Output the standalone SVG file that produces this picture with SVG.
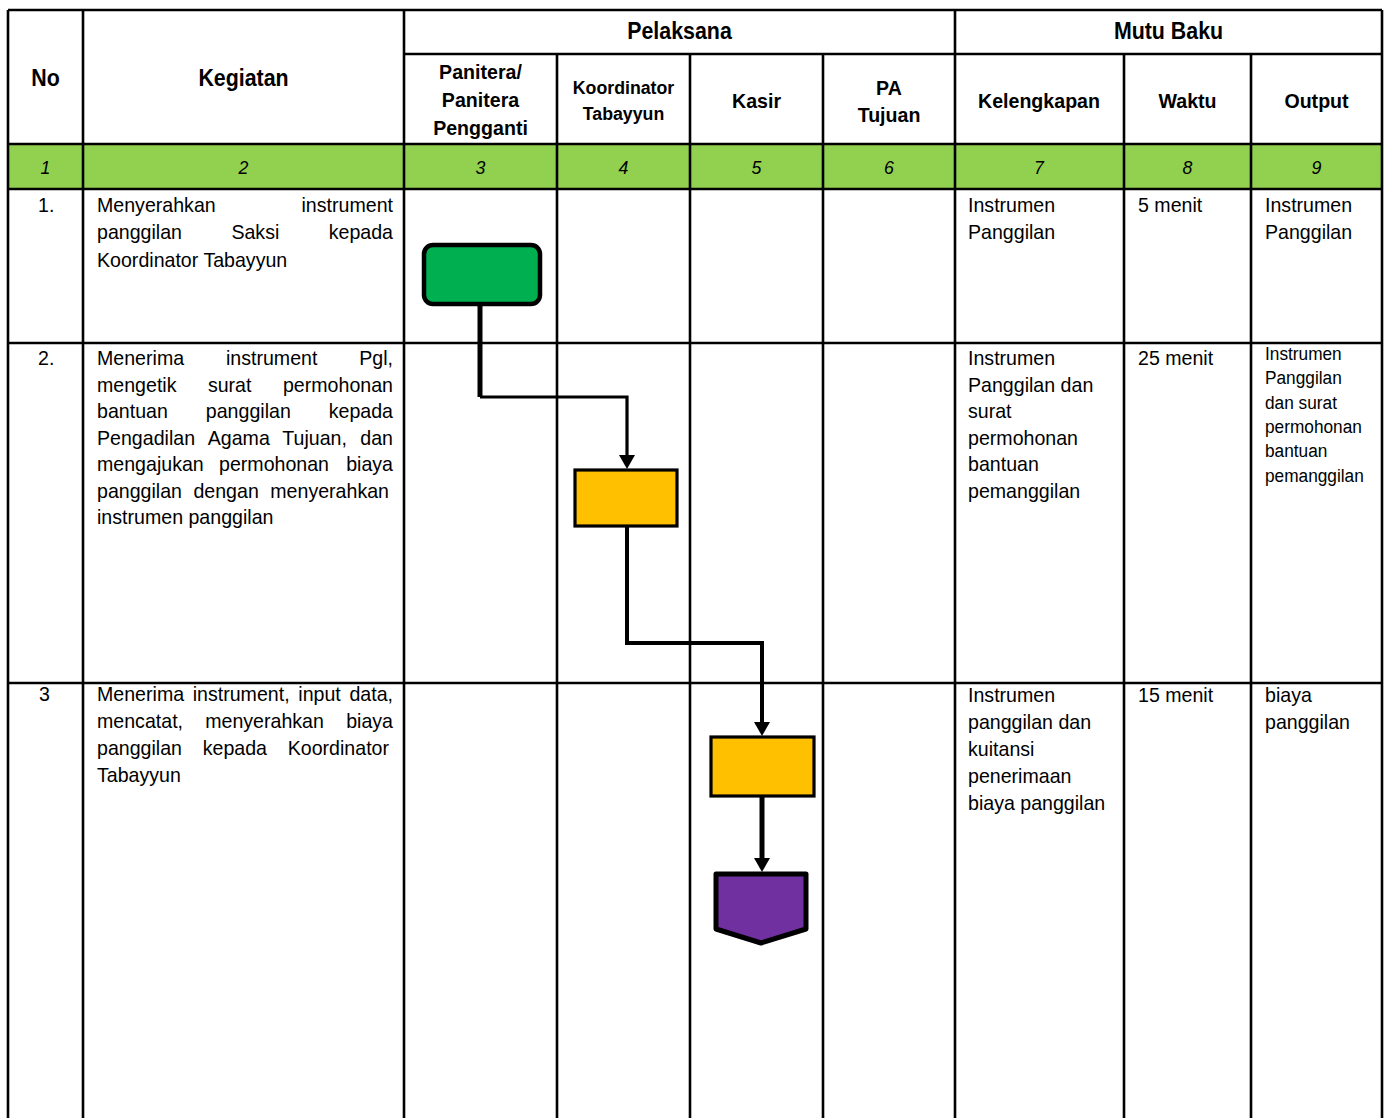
<svg xmlns="http://www.w3.org/2000/svg" width="1386" height="1118" viewBox="0 0 1386 1118">
<style>
.t{font-family:"Liberation Sans",Arial,sans-serif;fill:#000}
.r{font-size:21px}
.o{font-size:18.5px}
.h{font-size:23.5px;font-weight:bold;text-anchor:middle}
.s{font-size:21px;font-weight:bold;text-anchor:middle}
.k{font-size:19px;font-weight:bold;text-anchor:middle}
.n{font-size:19px;font-style:italic;text-anchor:middle}
.e{text-anchor:end}
.g line{stroke:#000;stroke-width:2.6}
.c{fill:none;stroke:#000}
</style>
<defs>
<marker id="ah" markerUnits="userSpaceOnUse" markerWidth="16" markerHeight="16" refX="0" refY="8" orient="auto"><path d="M0,0 L14,8 L0,16 z" fill="#000"/></marker>
</defs>
<rect width="1386" height="1118" fill="#fff"/>
<rect x="8" y="144" width="1374" height="45" fill="#92D050"/>
<g id="grid" class="g">
<line x1="8" y1="10" x2="1382" y2="10"/>
<line x1="404" y1="54" x2="1382" y2="54"/>
<line x1="8" y1="144" x2="1382" y2="144"/>
<line x1="8" y1="189" x2="1382" y2="189"/>
<line x1="8" y1="343" x2="1382" y2="343"/>
<line x1="8" y1="683" x2="1382" y2="683"/>
<line x1="8" y1="10" x2="8" y2="1118"/>
<line x1="83" y1="10" x2="83" y2="1118"/>
<line x1="404" y1="10" x2="404" y2="1118"/>
<line x1="557" y1="54" x2="557" y2="1118"/>
<line x1="690" y1="54" x2="690" y2="1118"/>
<line x1="823" y1="54" x2="823" y2="1118"/>
<line x1="955" y1="10" x2="955" y2="1118"/>
<line x1="1124" y1="54" x2="1124" y2="1118"/>
<line x1="1251" y1="54" x2="1251" y2="1118"/>
<line x1="1382" y1="10" x2="1382" y2="1118"/>
</g>
<g id="header">
<text class="t h" transform="translate(45.5 86) scale(.91 1)">No</text>
<text class="t h" transform="translate(243.5 86) scale(.91 1)">Kegiatan</text>
<text class="t h" transform="translate(679.5 38.5) scale(.91 1)">Pelaksana</text>
<text class="t h" transform="translate(1168.5 38.5) scale(.91 1)">Mutu Baku</text>
<text class="t s" transform="translate(480.5 78.5) scale(.934 1)">Panitera/</text>
<text class="t s" transform="translate(480.5 107) scale(.934 1)">Panitera</text>
<text class="t s" transform="translate(480.5 135) scale(.934 1)">Pengganti</text>
<text class="t k" transform="translate(623.5 93.5) scale(.934 1)">Koordinator</text>
<text class="t k" transform="translate(623.5 120) scale(.934 1)">Tabayyun</text>
<text class="t s" transform="translate(756.5 107.5) scale(.934 1)">Kasir</text>
<text class="t s" transform="translate(889 94.5) scale(.934 1)">PA</text>
<text class="t s" transform="translate(889 121.5) scale(.934 1)">Tujuan</text>
<text class="t s" transform="translate(1039 107.5) scale(.934 1)">Kelengkapan</text>
<text class="t s" transform="translate(1187.5 107.5) scale(.934 1)">Waktu</text>
<text class="t s" transform="translate(1316.5 107.5) scale(.934 1)">Output</text>
<text class="t n" transform="translate(45.5 174) scale(.934 1)">1</text>
<text class="t n" transform="translate(243.5 174) scale(.934 1)">2</text>
<text class="t n" transform="translate(480.5 174) scale(.934 1)">3</text>
<text class="t n" transform="translate(623.5 174) scale(.934 1)">4</text>
<text class="t n" transform="translate(756.5 174) scale(.934 1)">5</text>
<text class="t n" transform="translate(889 174) scale(.934 1)">6</text>
<text class="t n" transform="translate(1039 174) scale(.934 1)">7</text>
<text class="t n" transform="translate(1187.5 174) scale(.934 1)">8</text>
<text class="t n" transform="translate(1316.5 174) scale(.934 1)">9</text>
</g>
<g id="row1">
<text class="t r" transform="translate(38 211.5) scale(.934 1)">1.</text>
<text class="t r" transform="translate(97 211.5) scale(.934 1)">Menyerahkan</text>
<text class="t r e" transform="translate(393 211.5) scale(.934 1)">instrument</text>
<text class="t r" transform="translate(97 239) scale(.934 1)">panggilan</text>
<text class="t r" transform="translate(231.4 239) scale(.934 1)">Saksi</text>
<text class="t r e" transform="translate(393 239) scale(.934 1)">kepada</text>
<text class="t r" transform="translate(97 266.5) scale(.934 1)">Koordinator Tabayyun</text>
<text class="t r" transform="translate(968 211.5) scale(.934 1)">Instrumen</text>
<text class="t r" transform="translate(968 239) scale(.934 1)">Panggilan</text>
<text class="t r" transform="translate(1138 211.5) scale(.934 1)">5 menit</text>
<text class="t r" transform="translate(1265 211.5) scale(.934 1)">Instrumen</text>
<text class="t r" transform="translate(1265 239) scale(.934 1)">Panggilan</text>
</g>
<g id="row2">
<text class="t r" transform="translate(38 365) scale(.934 1)">2.</text>
<text class="t r" transform="translate(97 365) scale(.934 1)">Menerima</text>
<text class="t r" transform="translate(225.9 365) scale(.934 1)">instrument</text>
<text class="t r e" transform="translate(393 365) scale(.934 1)">Pgl,</text>
<text class="t r" transform="translate(97 391.5) scale(.934 1)">mengetik</text>
<text class="t r" transform="translate(207.9 391.5) scale(.934 1)">surat</text>
<text class="t r e" transform="translate(393 391.5) scale(.934 1)">permohonan</text>
<text class="t r" transform="translate(97 418) scale(.934 1)">bantuan</text>
<text class="t r" transform="translate(205.8 418) scale(.934 1)">panggilan</text>
<text class="t r e" transform="translate(393 418) scale(.934 1)">kepada</text>
<text class="t r" transform="translate(97 444.5) scale(.934 1)">Pengadilan</text>
<text class="t r" transform="translate(207.7 444.5) scale(.934 1)">Agama</text>
<text class="t r" transform="translate(282.3 444.5) scale(.934 1)">Tujuan,</text>
<text class="t r e" transform="translate(393 444.5) scale(.934 1)">dan</text>
<text class="t r" transform="translate(97 471) scale(.934 1)">mengajukan</text>
<text class="t r" transform="translate(219 471) scale(.934 1)">permohonan</text>
<text class="t r e" transform="translate(393 471) scale(.934 1)">biaya</text>
<text class="t r" transform="translate(97 497.5) scale(.934 1)">panggilan</text>
<text class="t r" transform="translate(193.4 497.5) scale(.934 1)">dengan</text>
<text class="t r e" transform="translate(389 497.5) scale(.934 1)">menyerahkan</text>
<text class="t r" transform="translate(97 524) scale(.934 1)">instrumen panggilan</text>
<text class="t r" transform="translate(968 365) scale(.934 1)">Instrumen</text>
<text class="t r" transform="translate(968 391.5) scale(.934 1)">Panggilan dan</text>
<text class="t r" transform="translate(968 418) scale(.934 1)">surat</text>
<text class="t r" transform="translate(968 444.5) scale(.934 1)">permohonan</text>
<text class="t r" transform="translate(968 471) scale(.934 1)">bantuan</text>
<text class="t r" transform="translate(968 497.5) scale(.934 1)">pemanggilan</text>
<text class="t r" transform="translate(1138 365) scale(.934 1)">25 menit</text>
<text class="t o" transform="translate(1265 360) scale(.934 1)">Instrumen</text>
<text class="t o" transform="translate(1265 384.3) scale(.934 1)">Panggilan</text>
<text class="t o" transform="translate(1265 408.6) scale(.934 1)">dan surat</text>
<text class="t o" transform="translate(1265 433) scale(.934 1)">permohonan</text>
<text class="t o" transform="translate(1265 457.4) scale(.934 1)">bantuan</text>
<text class="t o" transform="translate(1265 481.8) scale(.934 1)">pemanggilan</text>
</g>
<g id="row3">
<text class="t r" transform="translate(39 701) scale(.934 1)">3</text>
<text class="t r" transform="translate(97 701) scale(.934 1)">Menerima</text>
<text class="t r" transform="translate(192.7 701) scale(.934 1)">instrument,</text>
<text class="t r" transform="translate(298.3 701) scale(.934 1)">input</text>
<text class="t r e" transform="translate(393 701) scale(.934 1)">data,</text>
<text class="t r" transform="translate(97 728) scale(.934 1)">mencatat,</text>
<text class="t r" transform="translate(205.2 728) scale(.934 1)">menyerahkan</text>
<text class="t r e" transform="translate(393 728) scale(.934 1)">biaya</text>
<text class="t r" transform="translate(97 755) scale(.934 1)">panggilan</text>
<text class="t r" transform="translate(202.7 755) scale(.934 1)">kepada</text>
<text class="t r e" transform="translate(389 755) scale(.934 1)">Koordinator</text>
<text class="t r" transform="translate(97 782) scale(.934 1)">Tabayyun</text>
<text class="t r" transform="translate(968 701.5) scale(.934 1)">Instrumen</text>
<text class="t r" transform="translate(968 728.5) scale(.934 1)">panggilan dan</text>
<text class="t r" transform="translate(968 755.5) scale(.934 1)">kuitansi</text>
<text class="t r" transform="translate(968 782.5) scale(.934 1)">penerimaan</text>
<text class="t r" transform="translate(968 809.5) scale(.934 1)">biaya panggilan</text>
<text class="t r" transform="translate(1138 701.5) scale(.934 1)">15 menit</text>
<text class="t r" transform="translate(1265 701.5) scale(.934 1)">biaya</text>
<text class="t r" transform="translate(1265 728.5) scale(.934 1)">panggilan</text>
</g>
<g id="connectors">
<path class="c" d="M480 305 V397" stroke-width="5"/>
<path class="c" d="M480 397 H627 V455" stroke-width="3.2" marker-end="url(#ah)"/>
<path class="c" d="M627 526 V643 H762 V722" stroke-width="4" marker-end="url(#ah)"/>
<path class="c" d="M762 797 V858" stroke-width="5" marker-end="url(#ah)"/>
</g>
<g id="start">
<rect x="424" y="245" width="116" height="59" rx="9" fill="#00B050" stroke="#000" stroke-width="4.5"/>
</g>
<g id="step2">
<rect x="575" y="470" width="102" height="56" fill="#FFC000" stroke="#000" stroke-width="3.2"/>
</g>
<g id="step3">
<rect x="711" y="737" width="103" height="59" fill="#FFC000" stroke="#000" stroke-width="3.2"/>
</g>
<g id="offpage">
<polygon points="716,874 806,874 806,929 761,943 716,929" fill="#7030A0" stroke="#000" stroke-width="5" stroke-linejoin="round"/>
</g>
</svg>
